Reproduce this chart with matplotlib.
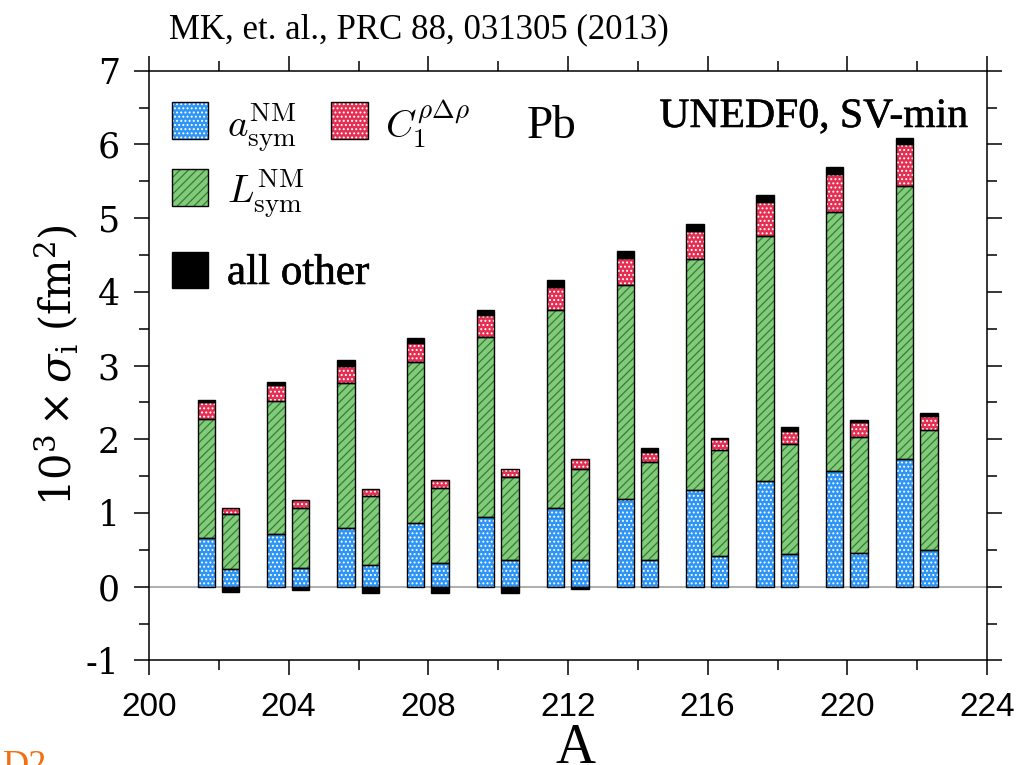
import numpy as np
import matplotlib
matplotlib.use('Agg')
import matplotlib.pyplot as plt
import matplotlib.patheffects as pe
from matplotlib.patches import Rectangle
from matplotlib.ticker import MultipleLocator

# mass numbers of the Pb isotopes
A = [202, 204, 206, 208, 210, 212, 214, 216, 218, 220, 222]

# contributions to 10^3 x sigma (fm^2), UNEDF0 (left bar of each pair)
unedf0_asym = [0.66, 0.72, 0.79, 0.87, 0.95, 1.07, 1.19, 1.31, 1.43, 1.57, 1.73]
unedf0_lsym = [1.62, 1.80, 1.97, 2.18, 2.44, 2.68, 2.90, 3.13, 3.33, 3.51, 3.70]
unedf0_c1 = [0.22, 0.22, 0.24, 0.26, 0.30, 0.32, 0.37, 0.39, 0.46, 0.52, 0.58]
unedf0_other = [0.03, 0.04, 0.08, 0.07, 0.07, 0.09, 0.09, 0.09, 0.10, 0.10, 0.08]

# SV-min (right bar of each pair)
svmin_asym = [0.24, 0.26, 0.30, 0.32, 0.36, 0.36, 0.36, 0.42, 0.44, 0.46, 0.50]
svmin_lsym = [0.75, 0.81, 0.93, 1.02, 1.13, 1.23, 1.33, 1.43, 1.50, 1.57, 1.63]
svmin_c1 = [0.08, 0.10, 0.10, 0.11, 0.10, 0.14, 0.14, 0.16, 0.17, 0.21, 0.19]
svmin_other = [-0.07, -0.05, -0.09, -0.09, -0.09, -0.03, 0.05, 0.01, 0.05, 0.02, 0.04]

xticks = [200, 204, 208, 212, 216, 220, 224]
yticks = [-1, 0, 1, 2, 3, 4, 5, 6, 7]

W, H = 1017, 765
def fx(x):
    return x / W
def fy(y):
    return 1 - y / H

plt.rcParams['hatch.linewidth'] = 0.9

# (face colour, hatch, hatch colour) for a_sym, L_sym, C1
styles = [('#2f95f5', '....', 'white'),
          ('#84ca7c', '////', '#2f802f'),
          ('#e52f52', '....', 'white')]

fig = plt.figure(figsize=(W / 100, H / 100), dpi=100)
ax = fig.add_axes([fx(149), fy(660.4), (987 - 149) / W, (660.4 - 70.7) / H])

def stacked(x, asym, lsym, c1, other):
    base = np.zeros(len(x))
    for vals, (fc, h, hc) in zip([asym, lsym, c1], styles):
        vals = np.array(vals)
        ax.bar(x, vals, 0.5, bottom=base, color=fc, hatch=h, edgecolor=hc, linewidth=0, zorder=2)
        ax.bar(x, vals, 0.5, bottom=base, fill=False, edgecolor='black', linewidth=1.0, zorder=3)
        base = base + vals
    other = np.array(other)
    ob = np.where(other < 0, 0, base)
    ax.bar(x, other, 0.5, bottom=ob, color='black', edgecolor='black', linewidth=1.0, zorder=3)

Ax = np.array(A)
stacked(Ax - 0.36, unedf0_asym, unedf0_lsym, unedf0_c1, unedf0_other)
stacked(Ax + 0.34, svmin_asym, svmin_lsym, svmin_c1, svmin_other)

ax.axhline(0, color='#999999', lw=1.1, zorder=1)

ax.set_xlim(200, 224)
ax.set_ylim(-1, 7)
ax.set_xticks(xticks, labels=[str(v) for v in xticks])
ax.set_yticks(yticks, labels=[str(v) for v in yticks])
ax.xaxis.set_minor_locator(MultipleLocator(2))
ax.yaxis.set_minor_locator(MultipleLocator(0.5))
ax.tick_params(which='both', direction='out', top=True, right=True, width=1.1)
ax.tick_params(which='major', length=11)
ax.tick_params(which='minor', length=7)
ax.tick_params(axis='x', pad=12)
ax.tick_params(axis='y', pad=10)
for t in ax.get_xticklabels():
    t.set_fontfamily('Liberation Sans')
    t.set_fontsize(24)
for t in ax.get_yticklabels():
    t.set_fontfamily('DejaVu Serif')
    t.set_fontsize(25)
for s in ax.spines.values():
    s.set_linewidth(1.1)

# legend boxes drawn by hand
def legend_box(x, y, fc, h, hc):
    fig.add_artist(Rectangle((fx(x), fy(y + 37)), 36.5 / W, 37 / H, transform=fig.transFigure,
                             facecolor=fc, hatch=h, edgecolor=hc, linewidth=0))
    fig.add_artist(Rectangle((fx(x), fy(y + 37)), 36.5 / W, 37 / H, transform=fig.transFigure,
                             fill=False, edgecolor='black', linewidth=1.0))

legend_box(171.5, 102, *styles[0])
legend_box(331, 102, *styles[2])
legend_box(171.5, 169, *styles[1])
fig.add_artist(Rectangle((fx(171.5), fy(288)), 36.5 / W, 36 / H, transform=fig.transFigure,
                         facecolor='black', edgecolor='black'))

# slightly heavier strokes for the plain-text labels
heavy = [pe.withStroke(linewidth=0.4, foreground='black')]

fig.text(fx(227), fy(137), r'$a^{\rm NM}_{\rm sym}$', fontsize=28, math_fontfamily='cm', va='baseline')
fig.text(fx(385), fy(138), r'$C_1^{\rho\Delta\rho}$', fontsize=28, math_fontfamily='cm', va='baseline')
fig.text(fx(227), fy(203), r'$L^{\rm NM}_{\rm sym}$', fontsize=28, math_fontfamily='cm', va='baseline')
fig.text(fx(227), fy(284), 'all other', fontsize=31, family='Liberation Serif', va='baseline',
         path_effects=heavy)

fig.text(fx(527), fy(138), 'Pb', fontsize=34, family='Liberation Serif', va='baseline')
fig.text(fx(968), fy(127), 'UNEDF0, SV-min', fontsize=30, family='Liberation Serif',
         ha='right', va='baseline', path_effects=heavy)
fig.text(fx(169), fy(38), 'MK, et. al., PRC 88, 031305 (2013)', fontsize=25, family='Liberation Serif',
         va='baseline')

fig.text(fx(57), fy(365), r'$10^3\times\sigma_{\rm i}$ (fm$^2$)', rotation=90, ha='center', va='center',
         fontsize=30, family='DejaVu Serif', math_fontfamily='dejavuserif')
fig.text(fx(575), fy(763), 'A', ha='center', va='baseline', fontsize=40, family='Liberation Serif')
fig.text(fx(3), fy(775), 'D2', va='baseline', fontsize=26, color='#f07010', family='Liberation Serif')

fig.savefig('out.png', dpi=100)
